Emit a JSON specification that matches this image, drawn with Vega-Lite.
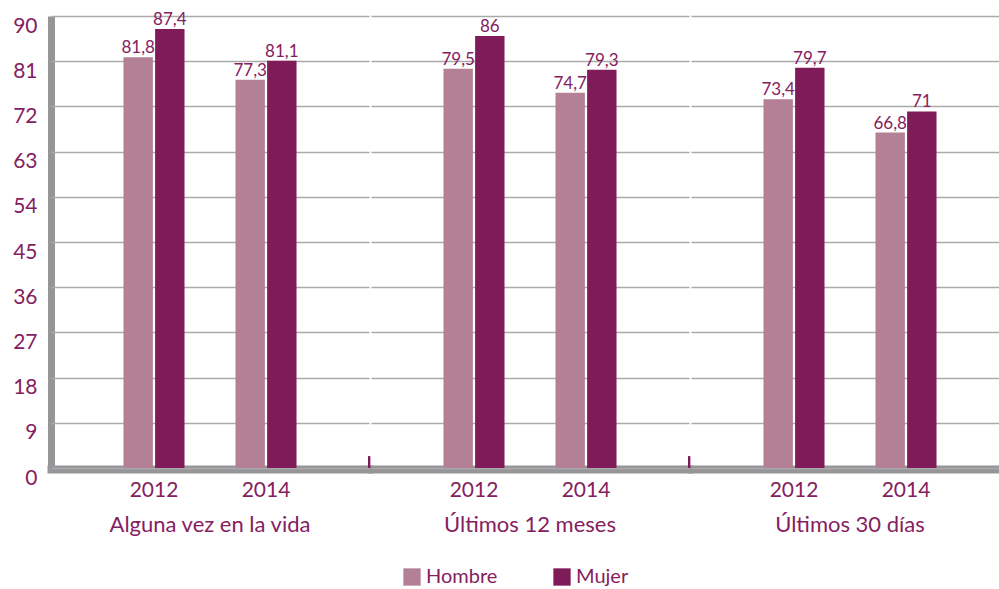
{
  "$schema": "https://vega.github.io/schema/vega-lite/v6.json",
  "padding": {"left": 12, "top": 11, "right": 0, "bottom": 4},
  "background": "white",
  "data": {"values": [
    {"grupo": "Alguna vez en la vida", "anio": "2012", "sexo": "Hombre", "valor": 81.8},
    {"grupo": "Alguna vez en la vida", "anio": "2012", "sexo": "Mujer", "valor": 87.4},
    {"grupo": "Alguna vez en la vida", "anio": "2014", "sexo": "Hombre", "valor": 77.3},
    {"grupo": "Alguna vez en la vida", "anio": "2014", "sexo": "Mujer", "valor": 81.1},
    {"grupo": "Últimos 12 meses", "anio": "2012", "sexo": "Hombre", "valor": 79.5},
    {"grupo": "Últimos 12 meses", "anio": "2012", "sexo": "Mujer", "valor": 86},
    {"grupo": "Últimos 12 meses", "anio": "2014", "sexo": "Hombre", "valor": 74.7},
    {"grupo": "Últimos 12 meses", "anio": "2014", "sexo": "Mujer", "valor": 79.3},
    {"grupo": "Últimos 30 días", "anio": "2012", "sexo": "Hombre", "valor": 73.4},
    {"grupo": "Últimos 30 días", "anio": "2012", "sexo": "Mujer", "valor": 79.7},
    {"grupo": "Últimos 30 días", "anio": "2014", "sexo": "Hombre", "valor": 66.8},
    {"grupo": "Últimos 30 días", "anio": "2014", "sexo": "Mujer", "valor": 71}
  ]},
  "facet": {
    "column": {
      "field": "grupo", "type": "nominal",
      "sort": ["Alguna vez en la vida", "Últimos 12 meses", "Últimos 30 días"],
      "title": null,
      "header": {"labelOrient": "bottom", "labelFontSize": 22, "labelColor": "#85205f", "labelFont": "Lato", "labelPadding": 15}
    }
  },
  "spacing": 0,
  "spec": {
    "width": 318,
    "height": 452,
    "layer": [
      {
        "mark": {"type": "bar"},
        "encoding": {
          "x": {"field": "anio", "type": "nominal",
                "scale": {"paddingInner": 0.455, "paddingOuter": 0.647},
                "axis": {"title": null, "labelAngle": 0, "ticks": false, "domainWidth": 8, "domainColor": "#969698", "domainCap": "square", "labelFontSize": 21, "labelColor": "#85205f", "labelPadding": 10, "grid": false}},
          "xOffset": {"field": "sexo", "type": "nominal", "sort": ["Hombre", "Mujer"], "scale": {"paddingInner": 0.07, "paddingOuter": 0}},
          "y": {"field": "valor", "type": "quantitative",
                "scale": {"domain": [0, 90], "nice": false},
                "axis": {"title": null, "values": [0, 9, 18, 27, 36, 45, 54, 63, 72, 81, 90], "grid": true, "gridColor": "#aaaaaa", "gridWidth": 1.5, "ticks": false, "domainColor": "#969698", "domainWidth": 7, "labelFontSize": 21, "labelColor": "#85205f", "labelPadding": 14, "labelOffset": 10}},
          "color": {"field": "sexo", "type": "nominal",
                    "scale": {"domain": ["Hombre", "Mujer"], "range": ["#b48096", "#801b5a"]},
                    "legend": {"orient": "none", "legendX": 351, "legendY": 551, "direction": "horizontal", "title": null, "symbolType": "square", "symbolSize": 300, "symbolStrokeWidth": 0, "labelFontSize": 20, "labelColor": "#85205f", "labelOffset": 4, "columnPadding": 54}}
        }
      },
      {
        "mark": {"type": "text", "baseline": "alphabetic", "dy": -4, "fontSize": 17, "color": "#85205f"},
        "encoding": {
          "x": {"field": "anio", "type": "nominal"},
          "xOffset": {"field": "sexo", "type": "nominal", "sort": ["Hombre", "Mujer"]},
          "y": {"field": "valor", "type": "quantitative"},
          "text": {"field": "valor", "type": "quantitative", "format": ".1~f"}
        }
      },
      {
        "transform": [{"filter": "datum.grupo !== 'Últimos 30 días'"}],
        "mark": {"type": "rule", "color": "#801b5a", "strokeWidth": 2},
        "encoding": {
          "x": {"datum": "2014", "bandPosition": 2.189},
          "y": {"datum": 0, "type": "quantitative", "title": null},
          "y2": {"datum": 2.3}
        }
      }
    ]
  },
  "config": {
    "font": "Lato",
    "view": {"stroke": null},
    "locale": {"number": {"decimal": ",", "thousands": ".", "grouping": [3], "currency": ["", " €"]}}
  }
}
